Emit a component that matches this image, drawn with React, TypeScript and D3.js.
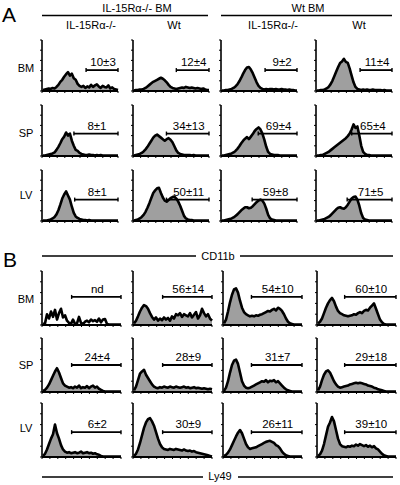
import React from "react";
import * as d3 from "d3";

// ---------- Data ----------
const organs = ["BM", "SP", "LV"];
const headersTop = ["IL-15Rα-/- BM", "Wt BM"];
const headersSub = ["IL-15Rα-/-", "Wt", "IL-15Rα-/-", "Wt"];
const markerB = "CD11b";
const markerBottom = "Ly49";

// Panel A (CD11b) histograms, 40 bins, relative counts
const aBM1 = [0.02,0.03,0.04,0.05,0.04,0.06,0.05,0.08,0.12,0.18,0.22,0.28,0.33,0.37,0.30,0.34,0.25,0.22,0.14,0.10,0.08,0.10,0.06,0.09,0.07,0.12,0.08,0.11,0.13,0.09,0.06,0.10,0.08,0.07,0.11,0.05,0.07,0.04,0.03,0.02];
const aBM2 = [0.01,0.02,0.02,0.03,0.03,0.04,0.06,0.09,0.12,0.15,0.18,0.20,0.22,0.24,0.26,0.24,0.21,0.17,0.12,0.08,0.06,0.05,0.04,0.05,0.06,0.07,0.06,0.08,0.07,0.06,0.07,0.06,0.05,0.06,0.05,0.04,0.05,0.03,0.02,0.02];
const aBM3 = [0.01,0.01,0.02,0.02,0.03,0.04,0.06,0.09,0.13,0.19,0.26,0.34,0.41,0.46,0.47,0.42,0.35,0.26,0.17,0.10,0.06,0.04,0.03,0.04,0.03,0.04,0.04,0.03,0.04,0.03,0.03,0.04,0.03,0.03,0.02,0.03,0.02,0.02,0.01,0.01];
const aBM4 = [0.01,0.01,0.02,0.02,0.03,0.05,0.08,0.13,0.20,0.29,0.38,0.47,0.55,0.58,0.63,0.57,0.55,0.44,0.30,0.17,0.08,0.04,0.03,0.02,0.03,0.02,0.03,0.02,0.02,0.03,0.02,0.02,0.02,0.02,0.01,0.02,0.01,0.01,0.01,0.01];
const aSP1 = [0.01,0.01,0.02,0.03,0.04,0.05,0.07,0.12,0.18,0.25,0.33,0.38,0.46,0.40,0.44,0.30,0.20,0.12,0.10,0.06,0.04,0.03,0.02,0.02,0.03,0.02,0.02,0.01,0.02,0.01,0.02,0.01,0.01,0.01,0.01,0.01,0.01,0.01,0.01,0.01];
const aSP2 = [0.01,0.02,0.03,0.04,0.06,0.09,0.13,0.18,0.24,0.30,0.36,0.40,0.42,0.39,0.36,0.33,0.30,0.33,0.35,0.32,0.27,0.19,0.11,0.06,0.04,0.03,0.02,0.02,0.02,0.02,0.01,0.02,0.01,0.01,0.01,0.01,0.01,0.01,0.01,0.01];
const aSP3 = [0.01,0.01,0.02,0.03,0.04,0.05,0.07,0.10,0.14,0.19,0.25,0.30,0.34,0.37,0.33,0.38,0.43,0.49,0.53,0.56,0.52,0.44,0.32,0.18,0.08,0.04,0.03,0.02,0.02,0.02,0.01,0.01,0.01,0.01,0.01,0.01,0.01,0.01,0.01,0.01];
const aSP4 = [0.01,0.01,0.02,0.02,0.04,0.06,0.08,0.11,0.14,0.17,0.20,0.23,0.26,0.29,0.32,0.35,0.39,0.44,0.52,0.62,0.55,0.58,0.40,0.20,0.08,0.04,0.02,0.02,0.01,0.01,0.01,0.01,0.01,0.01,0.01,0.01,0.01,0.01,0.01,0.01];
const aLV1 = [0.01,0.01,0.01,0.02,0.03,0.05,0.08,0.13,0.21,0.32,0.44,0.52,0.58,0.50,0.42,0.28,0.16,0.09,0.06,0.04,0.03,0.02,0.02,0.01,0.02,0.01,0.01,0.01,0.01,0.01,0.01,0.01,0.01,0.01,0.01,0.01,0.01,0.01,0.01,0.01];
const aLV2 = [0.01,0.02,0.03,0.05,0.08,0.12,0.18,0.26,0.35,0.45,0.55,0.60,0.64,0.65,0.55,0.46,0.40,0.38,0.41,0.45,0.47,0.48,0.44,0.38,0.30,0.20,0.10,0.05,0.03,0.02,0.02,0.01,0.01,0.01,0.01,0.01,0.01,0.01,0.01,0.01];
const aLV3 = [0.01,0.01,0.02,0.03,0.04,0.05,0.07,0.10,0.13,0.17,0.21,0.24,0.27,0.27,0.25,0.26,0.29,0.33,0.37,0.40,0.42,0.40,0.34,0.24,0.12,0.05,0.03,0.02,0.01,0.01,0.01,0.01,0.01,0.01,0.01,0.01,0.01,0.01,0.01,0.01];
const aLV4 = [0.01,0.01,0.02,0.03,0.04,0.06,0.08,0.11,0.15,0.19,0.23,0.26,0.27,0.25,0.24,0.27,0.32,0.38,0.44,0.47,0.48,0.42,0.30,0.15,0.06,0.03,0.02,0.01,0.01,0.01,0.01,0.01,0.01,0.01,0.01,0.01,0.01,0.01,0.01,0.01];

// Panel B (Ly49) histograms
const bBM1 = [0.02,0.03,0.20,0.12,0.25,0.15,0.28,0.10,0.22,0.30,0.14,0.18,0.08,0.04,0.02,0.10,0.02,0.03,0.15,0.04,0.02,0.06,0.08,0.05,0.10,0.07,0.09,0.06,0.12,0.05,0.10,0.11,0.02,0.01,0.01,0.01,0.01,0.01,0.01,0.01];
const bBM2 = [0.03,0.08,0.16,0.25,0.32,0.37,0.35,0.30,0.22,0.15,0.10,0.14,0.08,0.12,0.09,0.14,0.10,0.13,0.08,0.16,0.12,0.20,0.18,0.22,0.15,0.20,0.18,0.16,0.22,0.14,0.19,0.24,0.12,0.18,0.30,0.22,0.16,0.20,0.12,0.08];
const bBM3 = [0.03,0.10,0.25,0.42,0.56,0.66,0.68,0.60,0.45,0.32,0.24,0.20,0.18,0.16,0.17,0.16,0.18,0.17,0.19,0.20,0.22,0.24,0.26,0.25,0.28,0.30,0.27,0.32,0.30,0.26,0.20,0.12,0.06,0.03,0.02,0.01,0.01,0.01,0.01,0.01];
const bBM4 = [0.03,0.06,0.12,0.22,0.32,0.40,0.46,0.50,0.44,0.34,0.26,0.22,0.20,0.18,0.17,0.16,0.17,0.18,0.20,0.19,0.22,0.24,0.22,0.26,0.28,0.27,0.32,0.36,0.40,0.30,0.20,0.10,0.05,0.02,0.01,0.01,0.01,0.01,0.01,0.01];
const bSP1 = [0.02,0.04,0.08,0.14,0.22,0.30,0.38,0.44,0.36,0.26,0.16,0.12,0.10,0.08,0.09,0.07,0.10,0.08,0.12,0.07,0.09,0.08,0.11,0.07,0.10,0.12,0.08,0.10,0.06,0.04,0.02,0.01,0.01,0.01,0.01,0.01,0.01,0.01,0.01,0.01];
const bSP2 = [0.03,0.10,0.22,0.34,0.38,0.41,0.32,0.26,0.20,0.14,0.10,0.08,0.07,0.09,0.08,0.10,0.09,0.08,0.10,0.09,0.08,0.10,0.09,0.08,0.09,0.10,0.08,0.09,0.07,0.08,0.09,0.07,0.08,0.07,0.06,0.07,0.06,0.05,0.06,0.05];
const bSP3 = [0.02,0.08,0.20,0.36,0.50,0.58,0.60,0.52,0.36,0.20,0.12,0.08,0.07,0.08,0.10,0.12,0.14,0.16,0.18,0.20,0.19,0.22,0.18,0.21,0.20,0.22,0.18,0.20,0.16,0.12,0.08,0.05,0.03,0.02,0.01,0.01,0.01,0.01,0.01,0.01];
const bSP4 = [0.03,0.10,0.22,0.32,0.38,0.40,0.36,0.28,0.20,0.14,0.10,0.08,0.09,0.10,0.11,0.12,0.14,0.15,0.16,0.17,0.16,0.17,0.16,0.15,0.14,0.12,0.11,0.10,0.08,0.07,0.05,0.04,0.03,0.02,0.01,0.01,0.01,0.01,0.01,0.01];
const bLV1 = [0.02,0.06,0.14,0.24,0.34,0.42,0.60,0.44,0.34,0.22,0.14,0.10,0.08,0.09,0.07,0.08,0.09,0.07,0.08,0.10,0.07,0.08,0.09,0.07,0.08,0.06,0.07,0.05,0.04,0.02,0.01,0.01,0.01,0.01,0.01,0.01,0.01,0.01,0.01,0.01];
const bLV2 = [0.02,0.06,0.14,0.26,0.40,0.54,0.64,0.70,0.72,0.66,0.58,0.46,0.34,0.24,0.18,0.15,0.14,0.13,0.15,0.14,0.13,0.15,0.14,0.13,0.12,0.14,0.12,0.11,0.12,0.10,0.11,0.09,0.08,0.07,0.06,0.05,0.04,0.03,0.02,0.01];
const bLV3 = [0.02,0.04,0.08,0.14,0.22,0.30,0.38,0.45,0.50,0.44,0.34,0.24,0.18,0.15,0.16,0.17,0.18,0.20,0.22,0.24,0.26,0.28,0.29,0.30,0.28,0.26,0.22,0.20,0.16,0.10,0.06,0.03,0.02,0.01,0.01,0.01,0.01,0.01,0.01,0.01];
const bLV4 = [0.02,0.05,0.12,0.24,0.40,0.56,0.64,0.74,0.66,0.50,0.34,0.24,0.20,0.19,0.18,0.20,0.19,0.21,0.20,0.23,0.21,0.24,0.22,0.20,0.22,0.19,0.21,0.18,0.20,0.16,0.14,0.10,0.06,0.03,0.02,0.01,0.01,0.01,0.01,0.01];

const histA = [[aBM1, aBM2, aBM3, aBM4], [aSP1, aSP2, aSP3, aSP4], [aLV1, aLV2, aLV3, aLV4]];
const histB = [[bBM1, bBM2, bBM3, bBM4], [bSP1, bSP2, bSP3, bSP4], [bLV1, bLV2, bLV3, bLV4]];

// Gate labels (% positive)
const gateLabelsA = [["10±3", "12±4", "9±2", "11±4"], ["8±1", "34±13", "69±4", "65±4"], ["8±1", "50±11", "59±8", "71±5"]];
const gateLabelsB = [["nd", "56±14", "54±10", "60±10"], ["24±4", "28±9", "31±7", "29±18"], ["6±2", "30±9", "26±11", "39±10"]];
// Gate start (fraction of channel range)
const gateStartA = [[0.58, 0.57, 0.58, 0.58], [0.42, 0.44, 0.49, 0.47], [0.43, 0.44, 0.41, 0.41]];
const gateStartB = [[0.375, 0.375, 0.36, 0.35], [0.375, 0.375, 0.36, 0.35], [0.375, 0.375, 0.36, 0.35]];

// ---------- Layout ----------
const FONT = "'Liberation Sans', Arial, sans-serif";
const layoutA = { rowTops: [40, 105, 170], h: 51, colX: [42, 133, 221, 316], w: 76, gateLevel: [0.41, 0.44, 0.42], labelY: [72, 137, 199] };
const layoutB = { rowTops: [271, 338, 403], h: 54, colX: [42, 133, 223, 317], w: 79, gateLevel: [0.52, 0.5, 0.46], labelY: [303, 369, 432] };

function Hist({ data, x0, top, w, h, gate, label, gateLevel, filled }) {
  const n = data.length;
  const x = d3.scaleLinear().domain([0, n - 1]).range([x0 + 1, x0 + w]);
  const y = d3.scaleLinear().domain([0, 1]).range([top + h, top]);
  const area = d3.area<number>().x((_, i) => x(i)).y0(top + h).y1((d) => y(d));
  const line = d3.line<number>().x((_, i) => x(i)).y((d) => y(d));
  const ax = d3.scaleLinear().domain([0, 1]).range([x0, x0 + w]);
  const yTicks = d3.range(0, 1.01, 0.2);
  const xTicks = d3.range(0, 1.001, 0.1);
  const gx1 = ax(gate);
  const gx2 = x0 + w;
  const gy = y(gateLevel);
  return (
    <g>
      {filled && <path d={area(data)!} fill="#9f9f9f" />}
      <path d={line(data)!} fill="none" stroke="#000" strokeWidth={2.6} strokeLinejoin="round" />
      <line x1={x0} x2={x0} y1={top} y2={top + h} stroke="#000" strokeWidth={1.6} />
      <line x1={x0} x2={x0 + w} y1={top + h} y2={top + h} stroke="#000" strokeWidth={1.8} />
      {yTicks.map((t, i) => (
        <line key={"y" + i} x1={x0 - 2} x2={x0} y1={y(t)} y2={y(t)} stroke="#000" strokeWidth={1} />
      ))}
      {xTicks.map((t, i) => (
        <line key={"x" + i} x1={ax(t)} x2={ax(t)} y1={top + h} y2={top + h + 2} stroke="#000" strokeWidth={1} />
      ))}
      <line x1={gx1} x2={gx2} y1={gy} y2={gy} stroke="#000" strokeWidth={1.8} />
      <line x1={gx1} x2={gx1} y1={gy - 2} y2={gy + 2} stroke="#000" strokeWidth={1.4} />
      <line x1={gx2} x2={gx2} y1={gy - 2} y2={gy + 2} stroke="#000" strokeWidth={1.4} />
      <text x={(gx1 + gx2) / 2 + 1} y={gy - 4} textAnchor="middle" fontSize={11.5} fontFamily={FONT}>{label}</text>
    </g>
  );
}

function Panel({ layout, hist, labels, gates, filledFn }) {
  return (
    <g>
      {organs.map((o, r) => (
        <g key={o}>
          <text x={26} y={layout.labelY[r]} textAnchor="middle" fontSize={11} fontFamily={FONT}>{o}</text>
          {hist[r].map((d, c) => (
            <Hist key={c} data={d} x0={layout.colX[c]} top={layout.rowTops[r]} w={layout.w} h={layout.h}
              gate={gates[r][c]} label={labels[r][c]} gateLevel={layout.gateLevel[r]} filled={filledFn(r, c)} />
          ))}
        </g>
      ))}
    </g>
  );
}

export default function App() {
  return (
    <svg width={400} height={485} style={{ position: "absolute", left: 0, top: 0, background: "#fff" }}>
      <rect width={400} height={485} fill="#fff" />
      {/* Panel A headers */}
      <text x={2} y={22} fontSize={21} fontFamily={FONT}>A</text>
      <text x={137} y={12} textAnchor="middle" fontSize={11} fontFamily={FONT}>{headersTop[0]}</text>
      <line x1={42} x2={208} y1={15.5} y2={15.5} stroke="#000" strokeWidth={1.5} />
      <text x={308} y={12} textAnchor="middle" fontSize={11} fontFamily={FONT}>{headersTop[1]}</text>
      <line x1={221} x2={392} y1={15.5} y2={15.5} stroke="#000" strokeWidth={1.5} />
      {[91, 174, 273, 359].map((cx, i) => (
        <text key={i} x={cx} y={29} textAnchor="middle" fontSize={11} fontFamily={FONT}>{headersSub[i]}</text>
      ))}
      <Panel layout={layoutA} hist={histA} labels={gateLabelsA} gates={gateStartA} filledFn={() => true} />
      {/* Panel B */}
      <text x={3} y={267} fontSize={21} fontFamily={FONT}>B</text>
      <line x1={42} x2={196} y1={256} y2={256} stroke="#000" strokeWidth={1.5} />
      <text x={218} y={260} textAnchor="middle" fontSize={11} fontFamily={FONT}>{markerB}</text>
      <line x1={240} x2={393} y1={256} y2={256} stroke="#000" strokeWidth={1.5} />
      <Panel layout={layoutB} hist={histB} labels={gateLabelsB} gates={gateStartB} filledFn={(r, c) => !(r === 0 && c === 0)} />
      <line x1={42} x2={203} y1={477} y2={477} stroke="#000" strokeWidth={1.5} />
      <text x={220} y={480} textAnchor="middle" fontSize={11} fontFamily={FONT}>{markerBottom}</text>
      <line x1={238} x2={393} y1={477} y2={477} stroke="#000" strokeWidth={1.5} />
    </svg>
  );
}
